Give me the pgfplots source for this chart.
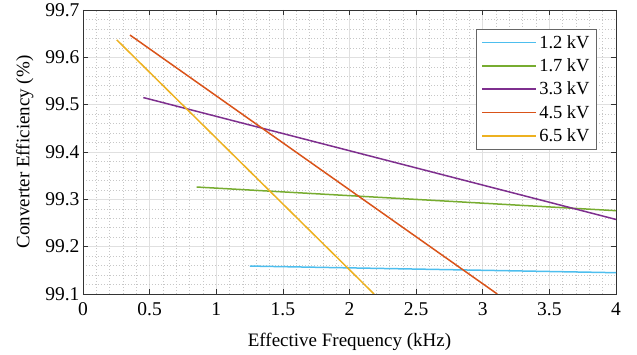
\documentclass[border=0pt]{standalone}
\usepackage{fontspec}
\setmainfont{Liberation Serif}
\usepackage{pgfplots}
\pgfplotsset{compat=1.18}
\definecolor{c1}{rgb}{0.301,0.745,0.933}
\definecolor{c2}{rgb}{0.466,0.674,0.188}
\definecolor{c3}{rgb}{0.494,0.184,0.556}
\definecolor{c4}{rgb}{0.850,0.325,0.098}
\definecolor{c5}{rgb}{0.929,0.694,0.125}
\begin{document}
\begin{tikzpicture}
\begin{axis}[
 at={(0,0)}, anchor=south west,
 width=533pt, height=284pt, scale only axis,
 xmin=0, xmax=4, ymin=99.1, ymax=99.7,
 xtick={0,0.5,1,1.5,2,2.5,3,3.5,4},
 ytick={99.1,99.2,99.3,99.4,99.5,99.6,99.7},
 minor x tick num=4, minor y tick num=4,
 grid=both,
 major grid style={line width=0.6pt, draw=black!12},
 minor grid style={line width=0.5pt, draw=black!22, dash pattern=on 0.6pt off 2.4pt},
 tick align=inside, major tick length=5pt, minor tick length=0pt,
 axis line style={draw=black!80, line width=0.7pt},
 tick style={draw=black!80, line width=0.6pt},
 ticklabel style={font=\fontsize{19.5}{22}\selectfont},
 label style={font=\fontsize{19}{22}\selectfont},
 xticklabel shift=5pt,
 xlabel shift=10pt,
 ylabel shift=5pt,
 xlabel={Effective Frequency (kHz)},
 ylabel={Converter Efficiency (\%)},
 /pgf/number format/assume math mode=true,
 yticklabel style={/pgf/number format/fixed, /pgf/number format/fixed zerofill, /pgf/number format/precision=1},
 xticklabel style={/pgf/number format/fixed},
 legend style={at={(0.964,0.933)}, anchor=north east, font=\fontsize{18.5}{21}\selectfont, draw=black!60, fill=white, inner xsep=5pt, inner ysep=4pt, row sep=5pt},
 legend cell align=left,
 legend image code/.code={\draw[line width=1.6pt,#1] (0pt,0pt) -- (54pt,0pt);},
]
\addplot[c1, line width=1.5pt] coordinates {(1.253,99.159) (4,99.145)};
\addlegendentry{1.2 kV}
\addplot[c2, line width=1.5pt] coordinates {(0.853,99.326) (4,99.276)};
\addlegendentry{1.7 kV}
\addplot[c3, line width=1.5pt] coordinates {(0.453,99.515) (4,99.2575)};
\addlegendentry{3.3 kV}
\addplot[c4, line width=1.5pt] coordinates {(0.353,99.647) (3.109,99.1)};
\addlegendentry{4.5 kV}
\addplot[c5, line width=1.5pt] coordinates {(0.253,99.637) (2.184,99.1)};
\addlegendentry{6.5 kV}
\end{axis}
\path (-83pt,-61pt) rectangle (554pt,294pt);
\end{tikzpicture}
\end{document}
